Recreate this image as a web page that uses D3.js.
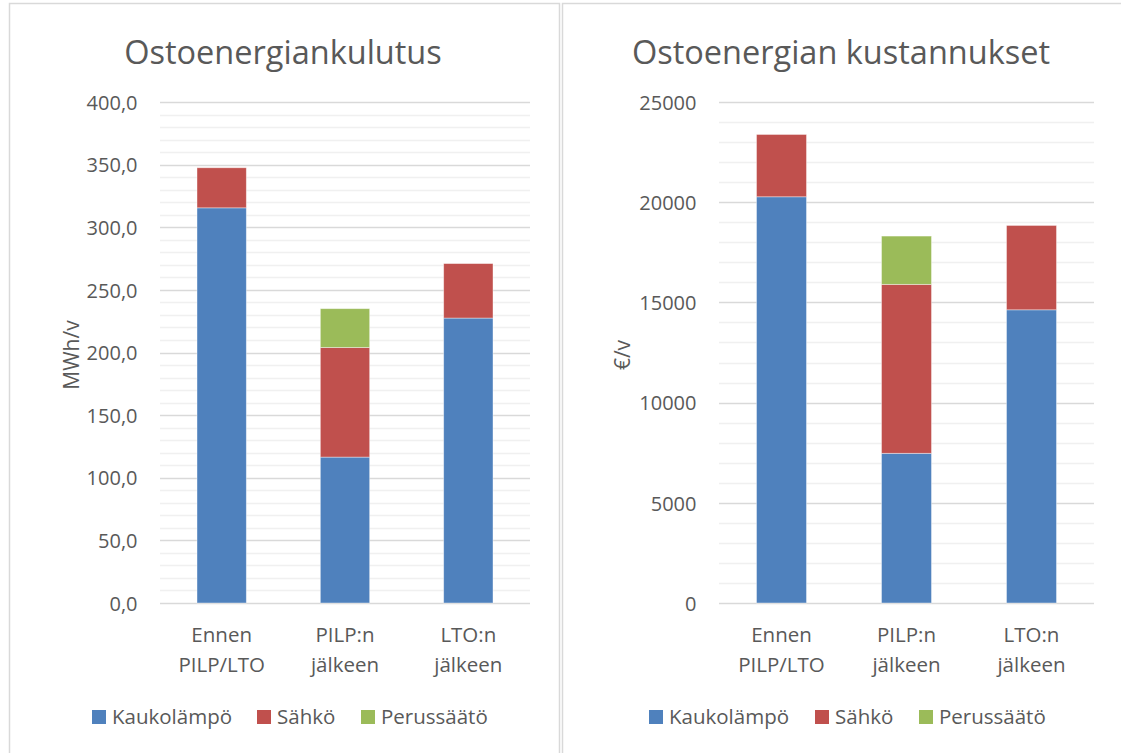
<!DOCTYPE html>
<html><head><meta charset="utf-8">
<script src="https://cdn.jsdelivr.net/npm/d3@7"></script>
<style>
body{margin:0;background:#fff;}
svg{display:block;}
text{font-family:"Open Sans","Noto Sans",sans-serif;fill:#595959;}
</style></head>
<body>
<svg id="c" width="1121" height="753"></svg>
<script>
const categories = [["Ennen","PILP/LTO"],["PILP:n","jälkeen"],["LTO:n","jälkeen"]];
const seriesNames = ["Kaukolämpö","Sähkö","Perussäätö"];
const colors = ["#4f81bd","#c0504d","#9bbb59"];

const energyKaukolampo = [315.5, 116.5, 227.5];
const energySahko = [32.0, 87.5, 43.5];
const energyPerussaato = [0, 31.0, 0];
const energyTicks = [0,50,100,150,200,250,300,350,400];

const costKaukolampo = [20270, 7470, 14630];
const costSahko = [3110, 8430, 4210];
const costPerussaato = [0, 2410, 0];
const costTicks = [0,5000,10000,15000,20000,25000];

const svg = d3.select("#c");
const FONT = '"Open Sans","Noto Sans",sans-serif';

// panel borders
svg.append("rect").attr("x",9.5).attr("y",3.5).attr("width",550).attr("height",760)
  .attr("fill","none").attr("stroke","#d9d9d9").attr("stroke-width",1.5);
svg.append("rect").attr("x",562.5).attr("y",3.5).attr("width",570).attr("height",760)
  .attr("fill","none").attr("stroke","#d9d9d9").attr("stroke-width",1.5);

function drawChart(opt){
  const g = svg.append("g");
  const y = d3.scaleLinear().domain([0, opt.max]).range([603, 102]);
  const x = d3.scaleBand().domain(d3.range(categories.length)).range([opt.x0, opt.x1]).paddingInner(0.6).paddingOuter(0.3);
  // minor grid
  const minor = d3.range(0, opt.max + 1e-9, opt.minor).filter(v => !opt.ticks.includes(v));
  g.selectAll(".mn").data(minor).enter().append("line")
    .attr("x1",opt.x0).attr("x2",opt.x1).attr("y1",d=>Math.round(y(d))+0.5).attr("y2",d=>Math.round(y(d))+0.5)
    .attr("stroke","#f0f0f0").attr("stroke-width",1.5);
  // major grid
  g.selectAll(".mj").data(opt.ticks).enter().append("line")
    .attr("x1",opt.x0).attr("x2",opt.x1).attr("y1",d=>Math.round(y(d))+0.5).attr("y2",d=>Math.round(y(d))+0.5)
    .attr("stroke","#d9d9d9").attr("stroke-width",1.5);
  // tick labels via axis
  const ax = g.append("g").attr("transform",`translate(${opt.x0 - 22.5},0)`)
    .call(d3.axisLeft(y).tickValues(opt.ticks).tickSize(0).tickPadding(0).tickFormat(opt.fmt));
  ax.select(".domain").remove();
  ax.selectAll("text").style("font-family",FONT).style("font-size","20px").attr("fill","#595959").attr("dy","0.36em");

  // stacks
  const rows = categories.map((c,i)=>({i, a:opt.s[0][i], b:opt.s[1][i], c:opt.s[2][i]}));
  const stack = d3.stack().keys(["a","b","c"])(rows);
  stack.forEach((layer, li) => {
    g.selectAll(".b"+li).data(layer.filter(d=>d[1]-d[0]>0)).enter().append("rect")
      .attr("x",d=>x(d.data.i)).attr("width",x.bandwidth())
      .attr("y",d=>y(d[1])).attr("height",d=>y(d[0])-y(d[1]))
      .attr("fill",colors[li]).attr("stroke","#ffffff").attr("stroke-opacity",0.5).attr("stroke-width",0.8);
  });

  // category labels
  categories.forEach((c,i)=>{
    const cx = x(i) + x.bandwidth()/2;
    c.forEach((line,k)=>{
      g.append("text").attr("x",cx).attr("y",642 + k*30).attr("text-anchor","middle")
        .style("font-size","20.5px").text(line);
    });
  });

  // title
  g.append("text").attr("x",opt.titleX).attr("y",64).attr("text-anchor","middle")
    .style("font-size","32.5px").text(opt.title);

  // y axis title
  g.append("text").attr("transform",`translate(${opt.yTitleX},355) rotate(-90)`)
    .attr("text-anchor","middle").style("font-size","21px").text(opt.yTitle);

  // legend
  seriesNames.forEach((n,i)=>{
    g.append("rect").attr("x",opt.legend[i]).attr("y",710).attr("width",14).attr("height",14).attr("fill",colors[i]);
    g.append("text").attr("x",opt.legend[i]+20).attr("y",724).style("font-size","20.5px").text(n);
  });
}

drawChart({
  max:400, minor:10, ticks:energyTicks, x0:160, x1:530,
  fmt:d=>d3.format(".1f")(d).replace(".",","),
  s:[energyKaukolampo, energySahko, energyPerussaato],
  title:"Ostoenergiankulutus", titleX:283, yTitle:"MWh/v", yTitleX:79,
  legend:[92,257,361]
});
drawChart({
  max:25000, minor:1000, ticks:costTicks, x0:719, x1:1094,
  fmt:d=>String(d),
  s:[costKaukolampo, costSahko, costPerussaato],
  title:"Ostoenergian kustannukset", titleX:841, yTitle:"€/v", yTitleX:630,
  legend:[649,815,919]
});
</script>
</body></html>
